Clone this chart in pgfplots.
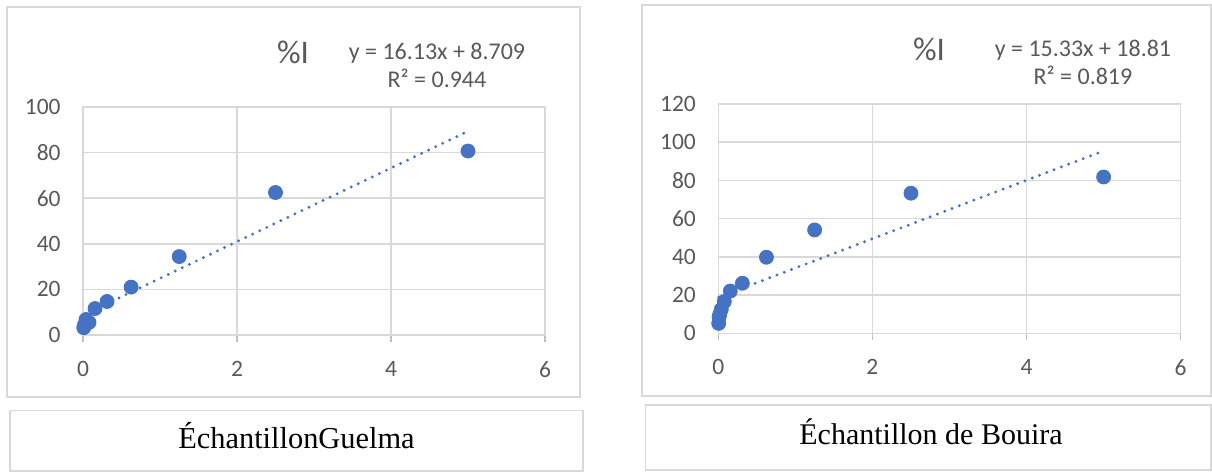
\documentclass[border=0pt]{standalone}
\usepackage{fontspec}
\setmainfont{Carlito}
\newfontfamily\timesf{Liberation Serif}
\usepackage{pgfplots}
\pgfplotsset{compat=1.18}
\definecolor{mk}{HTML}{4472C4}
\definecolor{gr}{HTML}{D9D9D9}
\definecolor{gd}{HTML}{BFBFBF}
\definecolor{tx}{HTML}{595959}
\pgfplotsset{excel/.style={
  scale only axis, clip=false,
  xmin=0, xmax=6, xtick={0,2,4,6}, ymin=0,
  grid=major, major grid style={draw=gr, line width=0.75pt},
  axis line style={draw=gr, line width=0.75pt},
  tick align=outside, xtick pos=left, ytick pos=left, major tick length=3.5pt,
  xtick style={draw=gd, line width=0.75pt},
  ytick style={draw=none},
  /pgf/number format/assume math mode=true,
  ticklabel style={font=\fontsize{11.75}{14}\selectfont, text=tx, inner sep=0pt},
  yticklabel style={xshift=-7.5pt},
  xticklabel style={yshift=-9.4pt},
}}
\begin{document}
\begin{tikzpicture}
\path[use as bounding box] (0,0) rectangle (606pt,236pt);
% frames
\draw[gr, line width=0.7pt] (3.5pt,37.5pt) rectangle (290pt,232.5pt);
\draw[gr, line width=0.7pt] (321pt,38pt) rectangle (605.5pt,233.5pt);
\draw[gr, line width=0.7pt] (5pt,0.5pt) rectangle (291.5pt,30.65pt);
\draw[gr, line width=0.7pt] (322.85pt,1pt) rectangle (605.5pt,33.5pt);

% Left chart: Guelma
\begin{axis}[excel, at={(41.5pt,68.5pt)}, anchor=south west,
  width=231pt, height=114pt, ymax=100, ytick={0,20,40,60,80,100}]
\addplot[only marks, mark=*, mark size=3.5pt, color=mk, mark options={solid, fill=mk, draw=mk}]
  coordinates {(5,80.7) (2.5,62.5) (1.25,34.4) (0.625,21.0) (0.3125,14.7) (0.156,11.6) (0.078,5.5) (0.039,6.8) (0.0195,4.5) (0.0098,3.2)};
\addplot[color=mk, line width=1.6pt, dash pattern=on 0pt off 3.9pt, line cap=round]
  coordinates {(0.0098,8.867) (5,89.359)};
\end{axis}

% Right chart: Bouira
\begin{axis}[excel, at={(359.15pt,69.35pt)}, anchor=south west,
  width=231.2pt, height=114.65pt, ymax=120, ytick={0,20,40,60,80,100,120}]
\addplot[only marks, mark=*, mark size=3.5pt, color=mk, mark options={solid, fill=mk, draw=mk}]
  coordinates {(5,81.8) (2.5,73.3) (1.25,54.1) (0.625,39.8) (0.3125,26.2) (0.156,22.1) (0.078,16.6) (0.039,12.5) (0.0195,10.0) (0.0098,8.5) (0.0049,5.2)};
\addplot[color=mk, line width=1.6pt, dash pattern=on 0pt off 3.9pt, line cap=round]
  coordinates {(0.0049,18.885) (5,95.46)};
\end{axis}

% titles and equations
\node[anchor=base, text=tx, font=\fontsize{16.5}{18}\selectfont] at (146.5pt,204.35pt) {\%I};
\node[anchor=base, text=tx, font=\fontsize{12}{14}\selectfont] at (218.5pt,206.35pt) {y = 16.13x + 8.709};
\node[anchor=base, text=tx, font=\fontsize{12}{14}\selectfont] at (218.5pt,192.15pt) {R² = 0.944};

\node[anchor=base, text=tx, font=\fontsize{16.5}{18}\selectfont] at (464.5pt,205.65pt) {\%I};
\node[anchor=base, text=tx, font=\fontsize{12}{14}\selectfont] at (541.5pt,207.65pt) {y = 15.33x + 18.81};
\node[anchor=base, text=tx, font=\fontsize{12}{14}\selectfont] at (541.5pt,193.5pt) {R² = 0.819};

% captions
\node[anchor=base, font=\timesf\fontsize{15.2}{17}\selectfont] at (148.25pt,11.6pt) {ÉchantillonGuelma};
\node[anchor=base, font=\timesf\fontsize{15}{17}\selectfont] at (465.5pt,13.5pt) {Échantillon de Bouira};
\end{tikzpicture}
\end{document}
